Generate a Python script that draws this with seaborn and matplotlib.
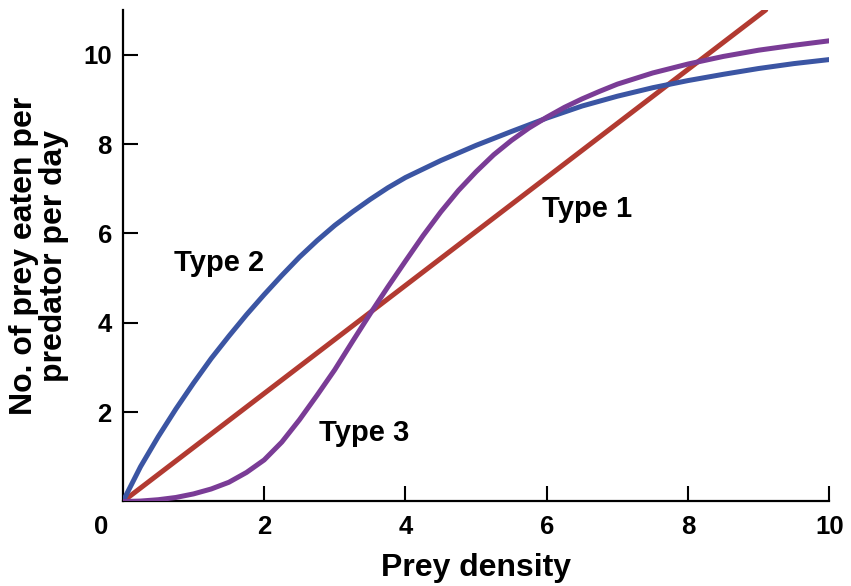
import matplotlib
matplotlib.use("Agg")
import matplotlib.pyplot as plt
import matplotlib.transforms as mtransforms
import seaborn as sns
import pandas as pd

# ---- data ----
type1_x = [0.0, 9.1]
type1_y = [0.0, 11.0]

type2_x = [0.0, 0.25, 0.5, 0.75, 1.0, 1.25, 1.5, 1.75, 2.0, 2.25, 2.5, 2.75,
           3.0, 3.25, 3.5, 3.75, 4.0, 4.5, 5.0, 5.5, 6.0, 6.5, 7.0, 7.5,
           8.0, 8.5, 9.0, 9.5, 10.0]
type2_y = [0.0, 0.78, 1.45, 2.07, 2.65, 3.20, 3.70, 4.18, 4.63, 5.06, 5.47,
           5.84, 6.18, 6.48, 6.76, 7.02, 7.25, 7.63, 7.97, 8.28, 8.58, 8.85,
           9.07, 9.26, 9.42, 9.56, 9.69, 9.80, 9.89]

type3_x = [0.0, 0.25, 0.5, 0.75, 1.0, 1.25, 1.5, 1.75, 2.0, 2.25, 2.5, 2.75,
           3.0, 3.25, 3.5, 3.75, 4.0, 4.25, 4.5, 4.75, 5.0, 5.25, 5.5, 5.75,
           6.0, 6.25, 6.5, 6.75, 7.0, 7.5, 8.0, 8.5, 9.0, 9.5, 10.0]
type3_y = [0.0, 0.01, 0.04, 0.09, 0.17, 0.28, 0.43, 0.65, 0.93, 1.33, 1.83,
           2.38, 2.95, 3.58, 4.20, 4.80, 5.38, 5.95, 6.48, 6.96, 7.38, 7.76,
           8.08, 8.36, 8.60, 8.82, 9.01, 9.18, 9.34, 9.59, 9.79, 9.96, 10.10,
           10.21, 10.31]

x_ticks = [0, 2, 4, 6, 8, 10]
y_ticks = [2, 4, 6, 8, 10]

labels = ["Type 1", "Type 2", "Type 3"]
colors = {"Type 1": "#b23a31", "Type 2": "#3b55a3", "Type 3": "#7a3c96"}
label_pos = {"Type 1": (6.57, 6.54), "Type 2": (1.36, 5.34), "Type 3": (3.42, 1.53)}

df = pd.concat([
    pd.DataFrame({"x": type1_x, "y": type1_y, "curve": "Type 1"}),
    pd.DataFrame({"x": type2_x, "y": type2_y, "curve": "Type 2"}),
    pd.DataFrame({"x": type3_x, "y": type3_y, "curve": "Type 3"}),
], ignore_index=True)

sns.set_style("ticks")
plt.rcParams["font.family"] = ["Liberation Sans", "DejaVu Sans"]
plt.rcParams["font.weight"] = "bold"
plt.rcParams["text.color"] = "black"
plt.rcParams["axes.labelcolor"] = "black"
plt.rcParams["xtick.color"] = "black"
plt.rcParams["ytick.color"] = "black"

fig = plt.figure(figsize=(8.51, 5.86), dpi=100)
ax = fig.add_axes([0.1444, 0.1442, 0.9745 - 0.1444, 0.983 - 0.1442])

sns.lineplot(data=df, x="x", y="y", hue="curve", palette=colors,
             hue_order=labels, sort=False, estimator=None, linewidth=3.6,
             legend=False, ax=ax, zorder=3)

for lab in labels:
    px, py = label_pos[lab]
    ax.text(px, py, lab, fontsize=21, fontweight="bold", ha="center",
            va="center", color="black")

ax.set_xlim(0, 10)
ax.set_ylim(0, 11)
ax.set_xticks(x_ticks)
ax.set_yticks(y_ticks)
ax.set_xticklabels([str(t) for t in x_ticks])
ax.set_yticklabels([str(t) for t in y_ticks])

for s in ["top", "right"]:
    ax.spines[s].set_visible(False)
for s in ["left", "bottom"]:
    ax.spines[s].set_linewidth(1.6)
    ax.spines[s].set_color("black")

ax.tick_params(axis="both", direction="in", length=11, width=1.5,
               color="black", labelsize=18.5, labelcolor="black")
ax.tick_params(axis="x", pad=10)
ax.tick_params(axis="y", pad=8)
for lbl in ax.get_xticklabels() + ax.get_yticklabels():
    lbl.set_fontweight("bold")

# shift the "0" origin label slightly left and hide its tick mark
xt = ax.xaxis.get_major_ticks()
xt[0].tick1line.set_visible(False)
offset = mtransforms.ScaledTranslation(-22 / 100, 0, fig.dpi_scale_trans)
xt[0].label1.set_transform(xt[0].label1.get_transform() + offset)

ax.set_xlabel("Prey density", fontsize=23, fontweight="bold", labelpad=10)
ax.set_ylabel("No. of prey eaten per\npredator per day", fontsize=23,
              fontweight="bold", labelpad=10, linespacing=1.0)

fig.savefig("out.png", dpi=100, facecolor="white")
